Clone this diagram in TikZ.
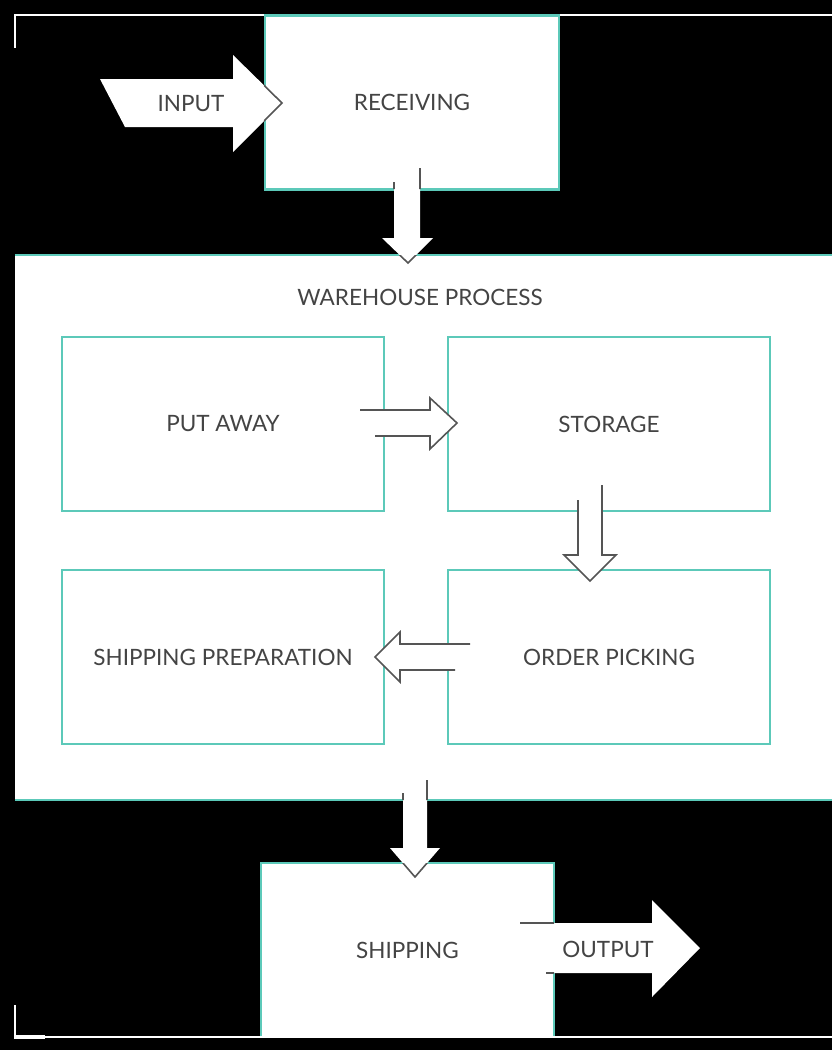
\documentclass[tikz,border=0pt]{standalone}
\usepackage{fontspec}
\setmainfont{Lato}
\definecolor{tealc}{HTML}{5CC9B9}
\definecolor{txt}{HTML}{444444}
\definecolor{arrl}{HTML}{555555}
\begin{document}
\begin{tikzpicture}[x=1pt,y=-1pt,
  box/.style={draw=tealc,fill=white,line width=2.5pt,rectangle,inner sep=0pt,
    minimum width=#1,minimum height=174pt,text=txt,font=\fontsize{22.5}{26}\selectfont},
  box/.default=322pt,
  lbl/.style={text=txt,font=\fontsize{22.5}{26}\selectfont,inner sep=0pt},
  arrl/.style={draw=arrl,line width=1.6pt,line join=miter}]
\useasboundingbox (0,0) rectangle (832,1050);
\fill[black] (0,0) rectangle (832,1050);
% frame fragments
\draw[white,line width=2pt] (14,14.5) -- (832,14.5);
\draw[white,line width=2pt] (15,14) -- (15,48);
\draw[white,line width=2pt] (15,1005) -- (15,1037);
\fill[white] (14,1035) rectangle (45,1039);
% band
\fill[white] (15,255) rectangle (832,800);
\draw[tealc,line width=2.5pt] (15,255) -- (832,255);
\draw[tealc,line width=2.5pt] (15,800) -- (832,800);
\node[lbl] (wp) at (420,297) {WAREHOUSE PROCESS};
% boxes
\node[box=294pt] (rec) at (412,102.5) {RECEIVING};
\node[box] (put) at (223,424) {PUT AWAY};
\node[box] (sto) at (609,424) {STORAGE};
\node[box] (prep) at (223,657) {SHIPPING PREPARATION};
\node[box] (pick) at (609,657) {ORDER PICKING};
\node[box=293pt] (ship) at (407.5,950) {SHIPPING};
\draw[white,line width=2pt] (14,1037) -- (832,1037);
% INPUT arrow
\fill[white] (100,79) -- (233,79) -- (233,55) -- (282,103) -- (233,152) -- (233,127) -- (125,127) -- cycle;
\begin{scope}
\clip (rec.south west) rectangle (rec.north east);
\draw[arrl] (100,79) -- (233,79) -- (233,55) -- (282,103) -- (233,152) -- (233,127) -- (125,127);
\end{scope}
\node[lbl] (in) at (191,104) {INPUT};
% receiving -> band
\fill[white] (394,182) -- (394,238) -- (382,238) -- (408,263) -- (433,238) -- (420,238) -- (420,168) -- cycle;
\begin{scope}
\clip (265,16) rectangle (559,189) (15,255) rectangle (832,800);
\draw[arrl] (394,182) -- (394,238) -- (382,238) -- (408,263) -- (433,238) -- (420,238) -- (420,168);
\end{scope}
% put away -> storage
\fill[white] (360,410) -- (430,410) -- (430,398) -- (457,423) -- (430,449) -- (430,436) -- (375,436) -- cycle;
\draw[arrl] (360,410) -- (430,410) -- (430,398) -- (457,423) -- (430,449) -- (430,436) -- (375,436);
% storage -> order picking
\fill[white] (578,500) -- (578,555) -- (564,555) -- (590,581) -- (616,555) -- (602,555) -- (602,485) -- cycle;
\draw[arrl] (578,500) -- (578,555) -- (564,555) -- (590,581) -- (616,555) -- (602,555) -- (602,485);
% order picking -> shipping preparation
\fill[white] (470,644) -- (400,644) -- (400,632) -- (375,657) -- (400,682) -- (400,670) -- (455,670) -- cycle;
\draw[arrl] (470,644) -- (400,644) -- (400,632) -- (375,657) -- (400,682) -- (400,670) -- (455,670);
% band -> shipping
\fill[white] (403,793) -- (403,848) -- (390,848) -- (415,877) -- (440,848) -- (427,848) -- (427,780) -- cycle;
\begin{scope}
\clip (15,255) rectangle (832,800) (261,863) rectangle (554,1036);
\draw[arrl] (403,793) -- (403,848) -- (390,848) -- (415,877) -- (440,848) -- (427,848) -- (427,780);
\end{scope}
% OUTPUT arrow
\fill[white] (520,923) -- (652,923) -- (652,900) -- (700,948) -- (652,997) -- (652,973) -- (546,973) -- cycle;
\begin{scope}
\clip (261,863) rectangle (554,1036);
\draw[arrl] (520,923) -- (652,923) -- (652,900) -- (700,948) -- (652,997) -- (652,973) -- (546,973);
\end{scope}
\node[lbl] (out) at (608,949) {OUTPUT};
\end{tikzpicture}
\end{document}
